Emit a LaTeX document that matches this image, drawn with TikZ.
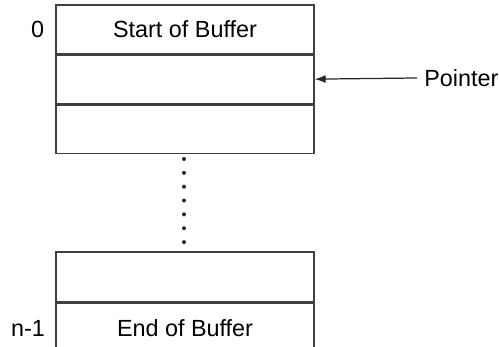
\documentclass[tikz,border=0pt]{standalone}
\usepackage{fontspec}
\setmainfont{Liberation Sans}
\usetikzlibrary{positioning,arrows.meta}
\tikzset{
	cell/.style={draw=black!75, line width=0.8pt, minimum width=5.16cm, minimum height=0.97cm, inner sep=0pt, font=\fontsize{13.3}{16}\selectfont},
	idx/.style={font=\fontsize{13.3}{16}\selectfont},
}

\begin{document}
\begin{tikzpicture}
			%%%%% START %%%%%
			
			\useasboundingbox (0, 0) rectangle (9.98, 6.94);
			\clip (0, 0) rectangle (9.98, 6.94);
			
			% top of buffer
			\node[cell] (start) at (3.70, 6.355) {Start of Buffer};
			\node[cell, below=0pt of start] (slot1) {};
			\node[cell, below=0pt of slot1] (slot2) {};
			\node[idx] (first) at (0.75, 6.36) {0};
			
			% gap
			\foreach \k in {0,...,6}
				\fill[black!85] (3.68, {3.76-0.277*\k}) circle (0.04);
			
			% end of buffer
			\node[cell, minimum height=1.0cm] (slotn) at (3.70, 1.40) {};
			\node[cell, minimum height=1.0cm, below=0pt of slotn] (finish) {End of Buffer};
			\node[idx] (last) at (0.56, 0.38) {n-1};
			
			% pointer
			\node[idx, anchor=west, inner sep=4pt] (pointer) at (8.34, 5.38) {Pointer};
			\draw[-{Latex[length=2.2mm, width=1.6mm]}, line width=0.7pt, black!85] (pointer.west) -- (slot1.east);
			
			%%%%% END %%%%%
\end{tikzpicture}
\end{document}
